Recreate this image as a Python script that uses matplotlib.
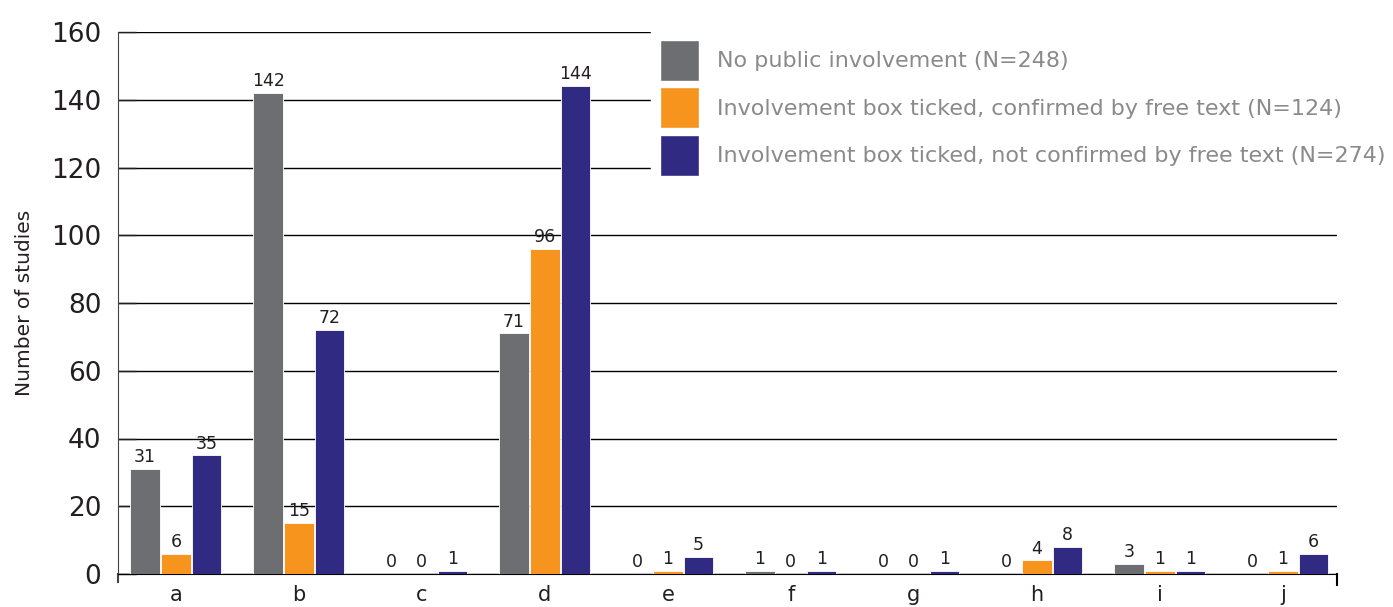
import numpy as np
import matplotlib.pyplot as plt
from matplotlib.patches import Patch
from matplotlib.lines import Line2D

categories = ["a", "b", "c", "d", "e", "f", "g", "h", "i", "j"]
no_involvement = [31, 142, 0, 71, 0, 1, 0, 0, 3, 0]
confirmed = [6, 15, 0, 96, 1, 0, 0, 4, 1, 1]
not_confirmed = [35, 72, 1, 144, 5, 1, 1, 8, 1, 6]
series_labels = [
    "No public involvement (N=248)",
    "Involvement box ticked, confirmed by free text (N=124)",
    "Involvement box ticked, not confirmed by free text (N=274)",
]
colors = ["#6d6e71", "#f7941d", "#312a83"]

plt.rcParams['font.family'] = ['DejaVu Sans']

fig = plt.figure(figsize=(13.93, 6.07), dpi=100)
ax = fig.add_axes([118 / 1393, 1 - 574 / 607, (1337 - 118) / 1393, (574 - 32) / 607])

x = np.arange(len(categories))
w = 0.24
offsets = [-0.25, 0.0, 0.25]
all_series = [no_involvement, confirmed, not_confirmed]
handles = []
for vals, off, col, lab in zip(all_series, offsets, colors, series_labels):
    bars = ax.bar(x + off, vals, width=w, color=col, edgecolor="white", linewidth=0.6, zorder=3)
    ax.bar_label(bars, labels=[str(v) for v in vals], padding=2, fontsize=12.5, color="#231f20")
    handles.append(Patch(facecolor=col, edgecolor="white", label=lab))

ax.set_xlim(-0.47, 9.44)
ax.set_ylim(0, 160)
ax.set_yticks(np.arange(0, 161, 20))
ax.yaxis.grid(True, color="black", linewidth=1.0, zorder=0)
ax.set_axisbelow(True)
ax.tick_params(axis="y", direction="in", length=13, width=1.0, pad=12, labelsize=19, colors="#231f20")
ax.tick_params(axis="x", length=0, pad=8, labelsize=15, colors="#231f20")
ax.set_xticks(x)
ax.set_xticklabels(categories)
ax.set_ylabel("Number of studies", fontsize=14.5, labelpad=12, color="#231f20")

for s in ["top", "right"]:
    ax.spines[s].set_visible(False)
ax.spines["left"].set_color("#444444")
ax.spines["bottom"].set_color("black")
ax.add_line(Line2D([0, 0], [0, -0.015], transform=ax.transAxes, color="#444444", lw=1.5, clip_on=False))
ax.add_line(Line2D([1, 1], [0, -0.02], transform=ax.transAxes, color="black", lw=1.5, clip_on=False))

leg = ax.legend(handles=handles, loc="upper left", bbox_to_anchor=(640 / 1393, 1 - 20 / 607),
                bbox_transform=fig.transFigure, fontsize=16, frameon=True, fancybox=False,
                edgecolor="white", framealpha=1.0, handlelength=1.75, handleheight=2.45,
                handletextpad=0.8, labelspacing=0.3, borderpad=0.4, labelcolor="#8a8a8c")
leg.set_zorder(5)

fig.savefig("out.png", dpi=100)
